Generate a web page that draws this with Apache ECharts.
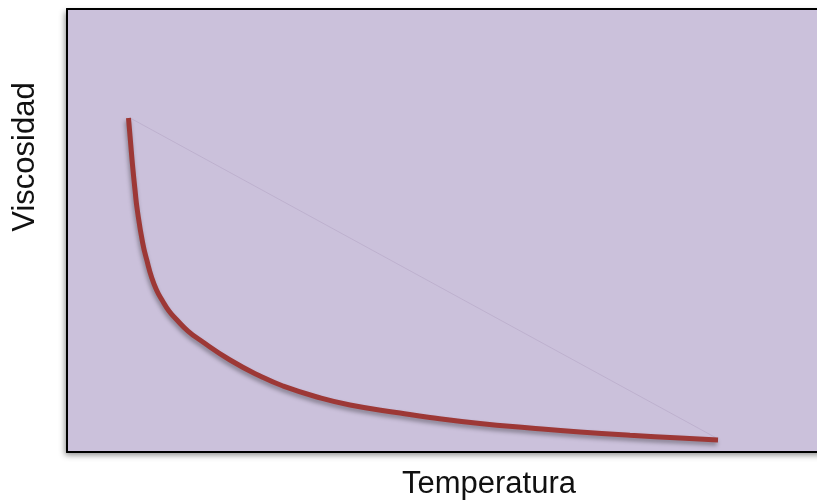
<!DOCTYPE html>
<html>
<head>
<meta charset="utf-8">
<script src="https://cdn.jsdelivr.net/npm/echarts@6/dist/echarts.min.js"></script>
<style>
html,body{margin:0;padding:0;background:#fff;}
#chart{width:817px;height:502px;}
</style>
</head>
<body>
<div id="chart"></div>
<script>
// Data (arbitrary units)
var temperatura = [8.09, 8.36, 8.62, 8.95, 9.25, 9.96, 10.53, 11.12, 11.78, 12.50, 13.42, 14.47, 15.92, 17.50, 21.45, 25.66, 28.42, 32.89, 37.24, 43.82, 47.76, 54.34, 60.92, 67.50, 74.08, 80.66, 85.66];
var viscosidad  = [75.40, 69.98, 64.79, 59.14, 54.63, 47.18, 43.12, 39.50, 36.57, 34.31, 31.83, 29.80, 27.31, 25.28, 20.77, 16.93, 14.90, 12.42, 10.61, 8.80, 7.79, 6.43, 5.42, 4.51, 3.77, 3.16, 2.71];
var chordX = [8.3, 85.4];
var chordY = [75.4, 3.2];
var xTitle = 'Temperatura';
var yTitle = 'Viscosidad';

var curve = temperatura.map(function (t, i) { return [t, viscosidad[i]]; });
var chord = chordX.map(function (t, i) { return [t, chordY[i]]; });

var axisLineStyle = {show: true, onZero: false, lineStyle: {color: '#000000', width: 2}};

var chart = echarts.init(document.getElementById('chart'), null, {renderer: 'canvas'});
chart.setOption({
  animation: false,
  backgroundColor: '#ffffff',
  grid: {
    left: 67, top: 9, right: -10, bottom: 50,
    outerBoundsMode: 'none',
    containLabel: false,
    show: true,
    backgroundColor: '#CBC1DB',
    borderWidth: 0,
    shadowColor: 'rgba(0,0,0,0.45)',
    shadowBlur: 6,
    shadowOffsetX: -2,
    shadowOffsetY: 3
  },
  xAxis: [
    {
      type: 'value', min: 0, max: 100, position: 'bottom',
      axisLine: axisLineStyle, axisTick: {show: false},
      axisLabel: {show: false}, splitLine: {show: false}
    },
    {
      type: 'value', min: 0, max: 100, position: 'top',
      axisLine: axisLineStyle, axisTick: {show: false},
      axisLabel: {show: false}, splitLine: {show: false}
    }
  ],
  yAxis: {
    type: 'value', min: 0, max: 100, position: 'left',
    axisLine: axisLineStyle, axisTick: {show: false},
    axisLabel: {show: false}, splitLine: {show: false}
  },
  graphic: [
    {
      type: 'text', x: 489, y: 484,
      style: {text: xTitle, font: '31px "Liberation Sans", Arial, sans-serif', fill: '#111', textAlign: 'center', textVerticalAlign: 'middle'}
    },
    {
      type: 'text', x: 25, y: 157, rotation: Math.PI / 2,
      style: {text: yTitle, font: '31px "Liberation Sans", Arial, sans-serif', fill: '#111', textAlign: 'center', textVerticalAlign: 'middle'}
    }
  ],
  series: [
    {
      type: 'line',
      data: chord,
      symbol: 'none',
      silent: true,
      lineStyle: {color: 'rgba(140,120,160,0.22)', width: 1}
    },
    {
      type: 'line',
      data: curve,
      symbol: 'none',
      smooth: 0.5,
      silent: true,
      lineStyle: {
        color: '#9D3836', width: 5, cap: 'butt',
        shadowColor: 'rgba(0,0,0,0.35)', shadowBlur: 4, shadowOffsetX: -1, shadowOffsetY: 3
      }
    }
  ]
});
</script>
</body>
</html>
